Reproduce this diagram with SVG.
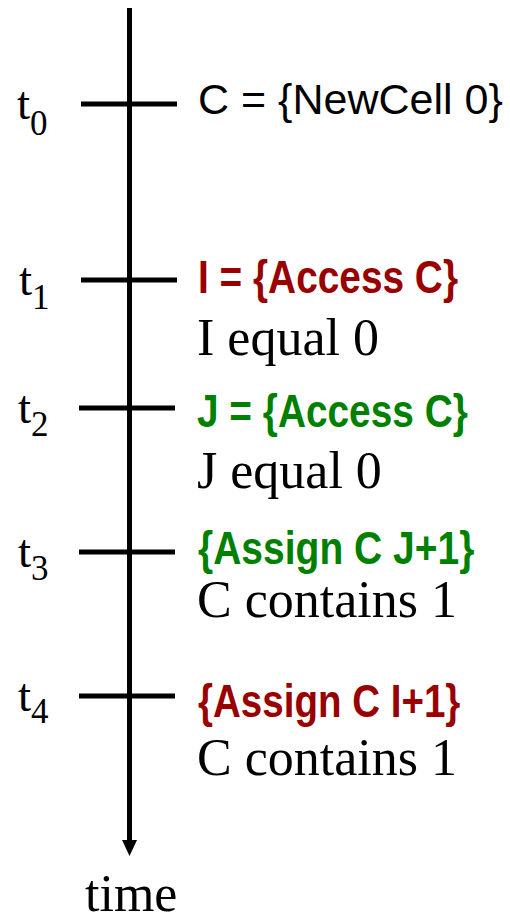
<svg xmlns="http://www.w3.org/2000/svg" width="510" height="916" viewBox="0 0 510 916">
<style>
.ax{stroke:#000;stroke-width:5;fill:none}
.tl{font-family:"Liberation Serif","Times New Roman",serif;font-size:47px;fill:#000}
.sub{font-size:35px}
.ser{font-family:"Liberation Serif","Times New Roman",serif;font-size:52px;fill:#000}
.bd{font-family:"Liberation Sans",Arial,sans-serif;font-weight:bold;font-size:47px}
.red{fill:#990000}
.grn{fill:#008000}
.reg{font-family:"Liberation Sans",Arial,sans-serif;font-size:43px;fill:#000}
</style>
<rect width="510" height="916" fill="#fff"/>
<g id="connectors">
<line class="ax" x1="129.5" y1="8" x2="129.5" y2="842"/>
<polygon points="122,840 137,840 129.5,856" fill="#000"/>
<line class="ax" x1="81" y1="104" x2="177" y2="104"/>
<line class="ax" x1="81" y1="280" x2="177" y2="280"/>
<line class="ax" x1="79" y1="408" x2="175" y2="408"/>
<line class="ax" x1="79" y1="552" x2="175" y2="552"/>
<line class="ax" x1="79" y1="696" x2="175" y2="696"/>
</g>
<g id="t0">
<text class="tl" x="17" y="119">t<tspan class="sub" dy="16">0</tspan></text>
<text class="reg" x="198" y="114">C = {NewCell 0}</text>
</g>
<g id="t1">
<text class="tl" x="19" y="295">t<tspan class="sub" dy="14">1</tspan></text>
<text class="bd red" transform="translate(198,293) scale(0.826,1)">I = {Access C}</text>
<text class="ser" x="197" y="355">I equal 0</text>
</g>
<g id="t2">
<text class="tl" x="18" y="423">t<tspan class="sub" dy="13">2</tspan></text>
<text class="bd grn" transform="translate(197,427) scale(0.826,1)">J = {Access C}</text>
<text class="ser" x="197" y="488">J equal 0</text>
</g>
<g id="t3">
<text class="tl" x="18" y="567">t<tspan class="sub" dy="13">3</tspan></text>
<text class="bd grn" transform="translate(198,564) scale(0.83,1)">{Assign C J+1}</text>
<text class="ser" x="197" y="617">C contains 1</text>
</g>
<g id="t4">
<text class="tl" x="18" y="711">t<tspan class="sub" dy="12">4</tspan></text>
<text class="bd red" transform="translate(198,717) scale(0.82,1)">{Assign C I+1}</text>
<text class="ser" x="197" y="775">C contains 1</text>
</g>
<g id="time">
<text class="ser" x="85" y="911">time</text>
</g>
</svg>
